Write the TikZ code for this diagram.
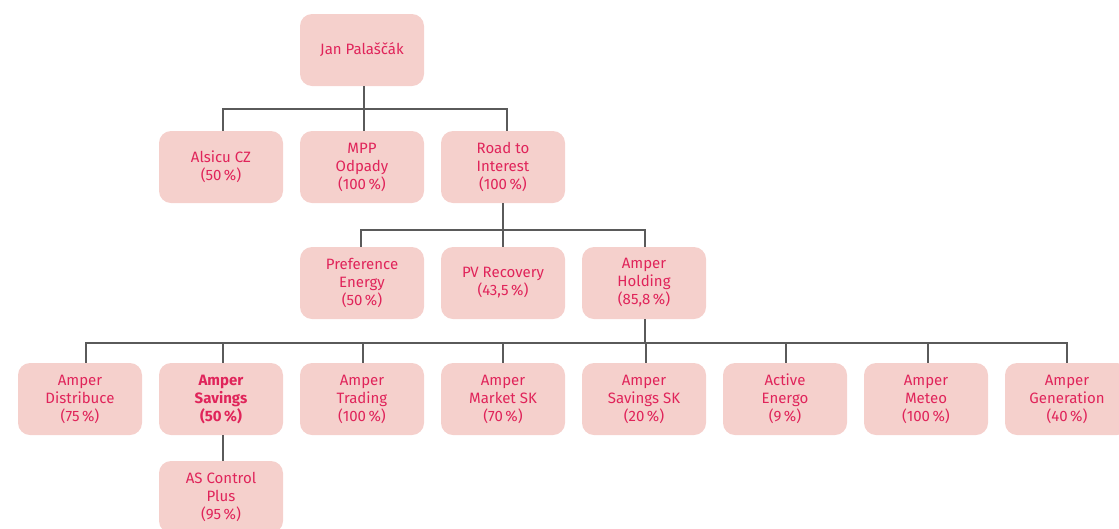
\documentclass[tikz,border=0pt]{standalone}
\usepackage{fontspec}
\setmainfont{Fira Sans}
\definecolor{boxpink}{HTML}{F5D0CC}
\definecolor{txtred}{HTML}{E0245A}
\definecolor{linegray}{HTML}{5A5A5A}
\begin{document}
\begin{tikzpicture}[x=1pt,y=-1pt,
  org/.style={fill=boxpink, rounded corners=12pt, minimum width=124pt, minimum height=72pt,
    inner sep=0pt, align=center, text=txtred, font=\fontsize{15}{18}\selectfont},
  conn/.style={draw=linegray, line width=1.2pt}]
\useasboundingbox (0,0) rectangle (1119,528);
% row 0
\node[org] (jan) at (362,50) {Jan Palaščák};
% row 1
\node[org] (alsicu) at (221,167) {Alsicu CZ\\(50\,\%)};
\node[org] (mpp) at (362,167) {MPP\\Odpady\\(100\,\%)};
\node[org] (road) at (503,167) {Road to\\Interest\\(100\,\%)};
% row 2
\node[org] (pref) at (362,283) {Preference\\Energy\\(50\,\%)};
\node[org] (pv) at (503,283) {PV Recovery\\(43,5\,\%)};
\node[org] (hold) at (644,283) {Amper\\Holding\\(85,8\,\%)};
% row 3
\node[org] (dist) at (80,399) {Amper\\Distribuce\\(75\,\%)};
\node[org] (sav) at (221,399) {\bfseries Amper\\\bfseries Savings\\\bfseries (50\,\%)};
\node[org] (trad) at (362,399) {Amper\\Trading\\(100\,\%)};
\node[org] (msk) at (503,399) {Amper\\Market SK\\(70\,\%)};
\node[org] (ssk) at (644,399) {Amper\\Savings SK\\(20\,\%)};
\node[org] (act) at (785,399) {Active\\Energo\\(9\,\%)};
\node[org] (met) at (926,399) {Amper\\Meteo\\(100\,\%)};
\node[org] (gen) at (1067,399) {Amper\\Generation\\(40\,\%)};
% row 4
\node[org] (ascp) at (221,497) {AS Control\\Plus\\(95\,\%)};
% connectors
\coordinate (b1) at (364,109);
\coordinate (b2) at (503,230);
\coordinate (b3) at (645,343);
\draw[conn] ([xshift=2pt]jan.south) -- (b1);
\draw[conn] ([xshift=2pt]alsicu.north) |- ([xshift=4pt]road.north |- b1) -- ([xshift=4pt]road.north);
\draw[conn] ([xshift=2pt]mpp.north) -- ([xshift=2pt]mpp.north |- b1);
\draw[conn] (road.south) -- (b2);
\draw[conn] ([xshift=-1pt]pref.north) |- ([xshift=1pt]hold.north |- b2) -- ([xshift=1pt]hold.north);
\draw[conn] (pv.north) -- (pv.north |- b2);
\draw[conn] ([xshift=1pt]hold.south) -- (b3);
\draw[conn] ([xshift=6pt]dist.north) |- (gen.north |- b3) -- (gen.north);
\draw[conn] ([xshift=2pt]sav.north) -- ([xshift=2pt]sav.north |- b3);
\draw[conn] ([xshift=1pt]trad.north) -- ([xshift=1pt]trad.north |- b3);
\draw[conn] (msk.north) -- (msk.north |- b3);
\draw[conn] ([xshift=2pt]ssk.north) -- ([xshift=2pt]ssk.north |- b3);
\draw[conn] ([xshift=1pt]act.north) -- ([xshift=1pt]act.north |- b3);
\draw[conn] ([xshift=2pt]met.north) -- ([xshift=2pt]met.north |- b3);
\draw[conn] ([xshift=2pt]sav.south) -- ([xshift=2pt]ascp.north);
\end{tikzpicture}
\end{document}
